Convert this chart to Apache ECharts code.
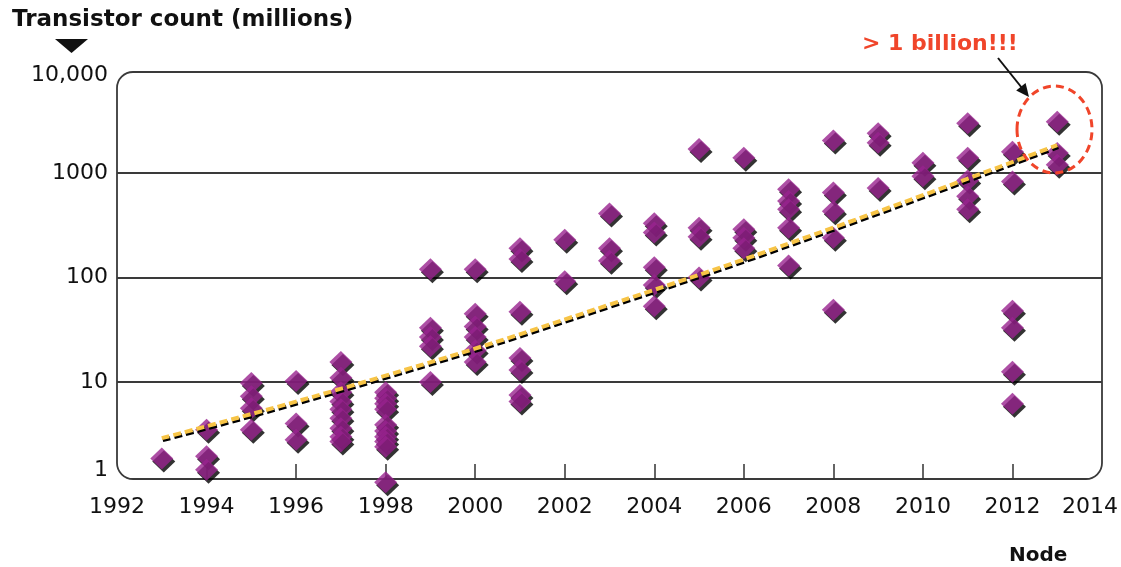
<!DOCTYPE html>
<html>
<head>
<meta charset="utf-8">
<script src="https://cdn.jsdelivr.net/npm/echarts@6/dist/echarts.min.js"></script>
<style>
html,body{margin:0;padding:0;background:#fff;}
#chart{width:1121px;height:567px;}
</style>
</head>
<body>
<div id="chart"></div>
<script>
// ---- data (transistor count in millions, by node year) ----
const nodeYears = [1993,1994,1995,1996,1997,1998,1999,2000,2001,2002,2003,2004,2005,2006,2007,2008,2009,2010,2011,2012,2013];
const counts = [
  [1.85],
  [3.5,1.95,1.45],
  [9.8,7.3,5.6,3.5],
  [10.2,4.0,2.8],
  [15.5,11,8,6.5,5.5,4.5,3.6,3.0,2.7],
  [8.0,7.0,6.2,5.5,3.9,3.4,3.0,2.7,2.4,1.1],
  [120,33,27,22,10],
  [120,45,34,27,20,15.5],
  [190,150,47,17,13,7.5,6.5],
  [230,92],
  [410,190,145],
  [330,270,125,85,53],
  [1700,300,245,100],
  [1400,290,240,190],
  [700,540,450,300,130],
  [2050,650,430,240,49],
  [2400,1950,720],
  [1250,930],
  [3000,1400,850,600,450],
  [1600,830,48,33,12.5,6.2],
  [3100,1550,1200]
];
const trendYears = [1993,1998,2003,2008,2013];
const trendValues = [2.9,11.5,55,300,1850];
const gridValues = [10,100,1000];
const xTicks = [1994,1996,1998,2000,2002,2004,2006,2008,2010,2012];

const points = [];
nodeYears.forEach((y,i)=>counts[i].forEach(v=>points.push([y,v])));
const trend = trendYears.map((y,i)=>[y,trendValues[i]]);

const chart = echarts.init(document.getElementById('chart'), null, {renderer:'canvas'});
const FONT = 'DejaVu Sans';
chart.setOption({
  animation:false,
  backgroundColor:'#fff',
  grid:{left:117,right:19,top:68.5,bottom:80.5,containLabel:false,outerBoundsMode:'none'},
  xAxis:{
    type:'value', min:1992, max:2014, interval:2, offset:-7.5,
    axisLine:{show:false,onZero:false},
    axisTick:{show:true,inside:true,length:15,customValues:xTicks,lineStyle:{color:'#333',width:1.5}},
    splitLine:{show:false},
    axisLabel:{
      fontFamily:FONT,fontSize:22,color:'#111',margin:17,
      formatter:v=> v===2014 ? '{r|2014}' : String(v),
      rich:{r:{fontFamily:FONT,fontSize:22,color:'#111',padding:[0,24,0,0]}}
    }
  },
  yAxis:{
    type:'log', logBase:10, min:1, max:10000,
    axisLine:{show:false}, axisTick:{show:false}, splitLine:{show:false},
    axisLabel:{
      fontFamily:FONT,fontSize:22,color:'#111',margin:9,
      formatter:function(v){
        if(v===1) return '{a|1}';
        if(v===10000) return '{b|10,000}';
        return '{c|'+v+'}';
      },
      rich:{
        a:{fontFamily:FONT,fontSize:22,color:'#111',padding:[0,0,32,0]},
        b:{fontFamily:FONT,fontSize:22,color:'#111',padding:[14,0,0,0]},
        c:{fontFamily:FONT,fontSize:22,color:'#111'}
      }
    }
  },
  series:[
    {
      type:'scatter', data:points, symbol:'diamond', symbolSize:[23,22], z:3,
      itemStyle:{color:'#99238f',shadowColor:'#000',shadowBlur:0,shadowOffsetX:2,shadowOffsetY:3},
      emphasis:{disabled:true},
      markLine:{
        silent:true, symbol:'none', label:{show:false},
        lineStyle:{color:'#3a3a3a',width:2,type:'solid'},
        data:gridValues.map(v=>({yAxis:v})),
        z:1
      }
    },
    {
      type:'line', data:trend, smooth:true, symbol:'none', z:5,
      lineStyle:{color:'#f7c446',width:4,type:[8,4],shadowColor:'#000',shadowBlur:0,shadowOffsetX:1,shadowOffsetY:2},
      emphasis:{disabled:true}
    }
  ],
  graphic:[
    {type:'rect',z:0,shape:{x:117,y:72,width:985,height:407,r:16},style:{fill:'none',stroke:'#3a3a3a',lineWidth:1.8}},
    {type:'text',z:10,left:12,top:9,style:{text:'Transistor count (millions)',fontFamily:FONT,fontWeight:'bold',fontSize:23,fill:'#111'}},
    {type:'polygon',z:10,shape:{points:[[55,39],[88,39],[71.5,53]]},style:{fill:'#111'}},
    {type:'text',z:10,left:862,top:33,style:{text:'> 1 billion!!!',fontFamily:FONT,fontWeight:'bold',fontSize:22,fill:'#f0452a'}},
    {type:'line',z:10,shape:{x1:998,y1:58,x2:1022,y2:88},style:{stroke:'#111',lineWidth:2}},
    {type:'polygon',z:10,shape:{points:[[1029,97],[1016.2,90.6],[1025.6,83.1]]},style:{fill:'#111'}},
    {type:'ellipse',z:10,shape:{cx:1054.5,cy:129.5,rx:37.5,ry:43.5},style:{fill:'none',stroke:'#f0452a',lineWidth:3,lineDash:[8,5]}},
    {type:'text',z:10,left:1009,top:546,style:{text:'Node',fontFamily:FONT,fontWeight:'bold',fontSize:20,fill:'#111'}}
  ]
});
</script>
</body>
</html>
